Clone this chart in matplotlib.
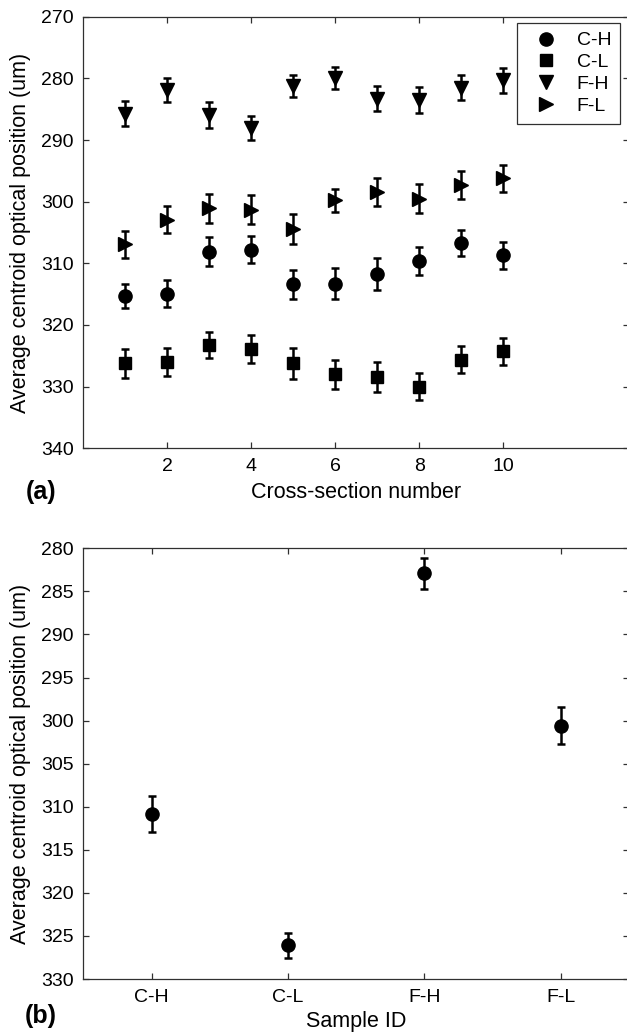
import matplotlib
matplotlib.use('Agg')
import matplotlib.pyplot as plt

# ---- panel (a): per cross-section averages ----
sections = [1, 2, 3, 4, 5, 6, 7, 8, 9, 10]
ch_mean = [315.3, 314.9, 308.1, 307.8, 313.4, 313.3, 311.8, 309.6, 306.7, 308.7]
ch_err = [2.0, 2.2, 2.4, 2.2, 2.35, 2.5, 2.6, 2.3, 2.1, 2.2]
cl_mean = [326.2, 326.0, 323.2, 323.9, 326.2, 328.0, 328.4, 330.0, 325.6, 324.3]
cl_err = [2.35, 2.2, 2.1, 2.3, 2.5, 2.4, 2.4, 2.2, 2.2, 2.2]
fh_mean = [285.7, 281.9, 286.0, 288.1, 281.3, 280.0, 283.3, 283.5, 281.5, 280.3]
fh_err = [2.0, 2.0, 2.1, 1.95, 1.8, 1.8, 2.0, 2.1, 2.0, 2.0]
fl_mean = [306.9, 302.9, 301.1, 301.3, 304.4, 299.8, 298.4, 299.5, 297.3, 296.2]
fl_err = [2.2, 2.2, 2.4, 2.35, 2.4, 1.9, 2.25, 2.3, 2.3, 2.2]

# ---- panel (b): per-sample averages ----
samples = ['C-H', 'C-L', 'F-H', 'F-L']
sample_mean = [310.85, 326.1, 282.9, 300.6]
sample_err = [2.07, 1.41, 1.78, 2.13]

plt.rcParams.update({'font.family': 'Liberation Sans', 'font.size': 14,
                     'axes.linewidth': 0.9, 'axes.edgecolor': '#303030'})

W, H = 627, 1036
fig = plt.figure(figsize=(W / 100, H / 100), dpi=100)

def px_axes(x0, y0, x1, y1):
    return fig.add_axes([x0 / W, 1 - y1 / H, (x1 - x0) / W, (y1 - y0) / H])

EB = dict(fmt='none', ecolor='k', elinewidth=1.8, capsize=3.2, capthick=1.8)
MK = dict(color='k', linestyle='none')
LABEL_FS = 15.5

def style(ax):
    ax.tick_params(direction='in', length=4, width=0.9, top=True, right=True,
                   labelsize=14, pad=7, color='#303030')
    ax.invert_yaxis()

# (a)
ax1 = px_axes(83.3, 16.7, 629, 448.3)
series = [('C-H', ch_mean, ch_err, 'o', 9.5),
          ('C-L', cl_mean, cl_err, 's', 8),
          ('F-H', fh_mean, fh_err, 'v', 10),
          ('F-L', fl_mean, fl_err, '>', 10)]
for name, m, e, mk, ms in series:
    ax1.errorbar(sections, m, yerr=e, **EB)
    ax1.plot(sections, m, marker=mk, markersize=ms, label=name, **MK)
ax1.set_xlim(0, 13)
ax1.set_ylim(270, 340)
ax1.set_xticks([2, 4, 6, 8, 10])
ax1.set_yticks(range(270, 341, 10))
style(ax1)
ax1.set_xlabel('Cross-section number', fontsize=LABEL_FS, labelpad=5)
ax1.set_ylabel('Average centroid optical position (um)', fontsize=LABEL_FS, labelpad=7)
leg = ax1.legend(loc='upper right', bbox_to_anchor=(620 / W, 1 - 23 / H),
                 bbox_transform=fig.transFigure, fancybox=False, framealpha=1,
                 edgecolor='#303030', handlelength=2.0, handletextpad=0.6,
                 labelspacing=0.22, borderpad=0.45, borderaxespad=0, fontsize=14)
leg.get_frame().set_linewidth(0.9)
fig.text(26 / W, 1 - 499 / H, '(a)', fontsize=18, fontweight='bold', va='baseline')

# (b)
ax2 = px_axes(83.3, 548.3, 629, 979)
xpos = list(range(1, len(samples) + 1))
ax2.errorbar(xpos, sample_mean, yerr=sample_err, **EB)
ax2.plot(xpos, sample_mean, marker='o', markersize=9.5, **MK)
ax2.set_xlim(0.5, 4.5)
ax2.set_ylim(280, 330)
ax2.set_xticks(xpos)
ax2.set_xticklabels(samples)
ax2.set_yticks(range(280, 331, 5))
style(ax2)
ax2.set_xlabel('Sample ID', fontsize=LABEL_FS, labelpad=4)
ax2.set_ylabel('Average centroid optical position (um)', fontsize=LABEL_FS, labelpad=7)
fig.text(25 / W, 1 - 1023 / H, '(b)', fontsize=18, fontweight='bold', va='baseline')

fig.savefig('out.png', dpi=100)
